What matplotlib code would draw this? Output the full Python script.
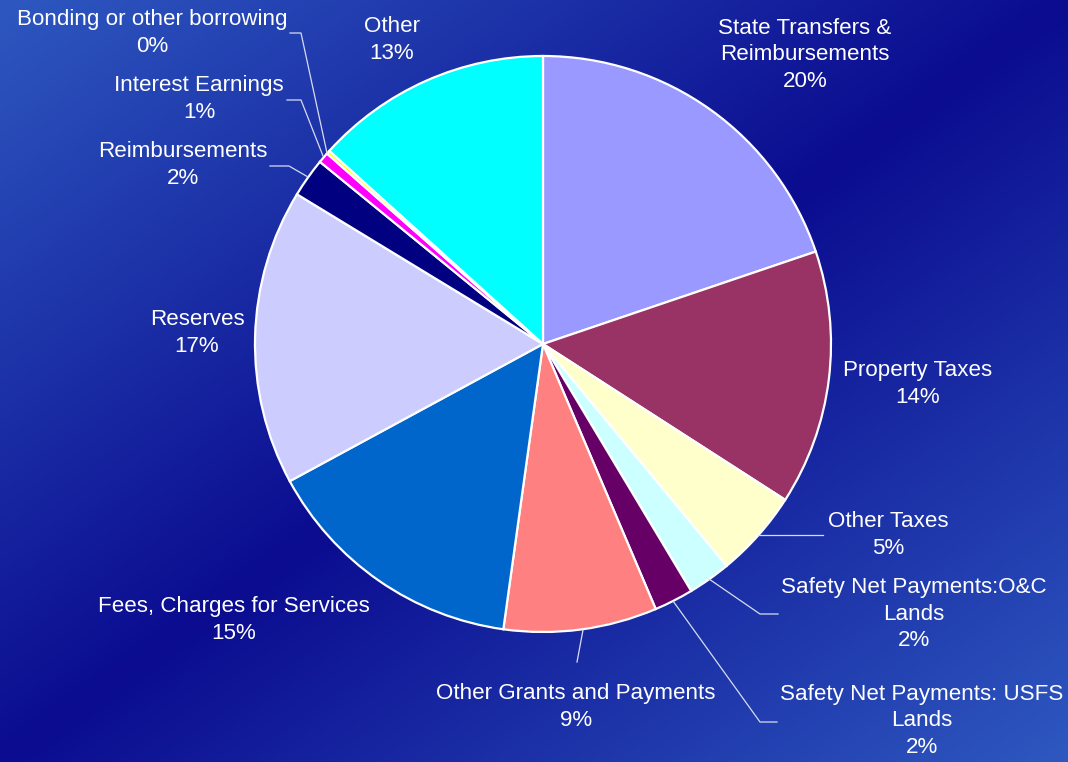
import numpy as np
import matplotlib.pyplot as plt
from matplotlib.colors import LinearSegmentedColormap

plt.rcParams['font.family'] = ['Liberation Sans', 'DejaVu Sans']

# slices, clockwise from 12 o'clock
names = ["State Transfers &\nReimbursements", "Property Taxes", "Other Taxes",
         "Safety Net Payments:O&C\nLands", "Safety Net Payments: USFS\nLands",
         "Other Grants and Payments", "Fees, Charges for Services", "Reserves",
         "Reimbursements", "Interest Earnings", "Bonding or other borrowing", "Other"]
shares = [19.8, 14.3, 4.9, 2.4, 2.2, 8.6, 14.9, 16.6, 2.2, 0.6, 0.2, 13.3]
colors = ["#9999ff", "#993366", "#ffffcc", "#ccffff", "#660066", "#ff8080",
          "#0066cc", "#ccccff", "#000080", "#ff00ff", "#ffff00", "#00ffff"]

W, H = 1068, 762
cx, cy, R = 543, 344, 288

fig = plt.figure(figsize=(W / 100, H / 100), dpi=100)

# diagonal gradient background
bg = fig.add_axes([0, 0, 1, 1])
xx, yy = np.meshgrid(np.linspace(0, 1, 400), np.linspace(0, 1, 300))
t = np.abs((xx + yy) - 1.0)
cmap = LinearSegmentedColormap.from_list("bg", ["#0b0c90", "#2e58c0"])
bg.imshow(t, cmap=cmap, extent=[0, 1, 0, 1], aspect='auto', origin='upper')
bg.axis('off')

ax = fig.add_axes([(cx - R) / W, (H - cy - R) / H, 2 * R / W, 2 * R / H])
ax.pie(shares, colors=colors, startangle=90, counterclock=False, radius=1,
       wedgeprops=dict(edgecolor='white', linewidth=1.6))
ax.set_xlim(-1, 1)
ax.set_ylim(-1, 1)
ax.axis('off')


def px(x, y):
    return (x - cx) / R, (cy - y) / R


total = sum(shares)
label_pos = [(805, 55), (918, 384), (888, 535), (914, 614), (922, 721), (576, 707),
             (234, 620), (197, 333), (183, 165), (199, 99), (152, 33), (392, 40)]
for name, v, (lx, ly) in zip(names, shares, label_pos):
    X, Y = px(lx, ly)
    ax.text(X, Y, f"{name}\n{v / total * 100:.0f}%", ha='center', va='center',
            color='white', fontsize=16.1, linespacing=1.33)

# leader lines (pixel paths)
leaders = [
    [(758, 535), (823, 535)],
    [(709, 579), (760, 614), (778, 614)],
    [(673, 601), (760, 722), (777, 722)],
    [(583, 630), (577, 662)],
    [(308, 177), (289, 166), (270, 166)],
    [(323, 156), (301, 100), (287, 100)],
    [(327, 153), (301, 33), (290, 33)],
]
for path in leaders:
    pts = np.array([px(x, y) for x, y in path])
    ax.plot(pts[:, 0], pts[:, 1], color='#d8dcf0', lw=0.9, clip_on=False)

fig.savefig("out.png", dpi=100)
